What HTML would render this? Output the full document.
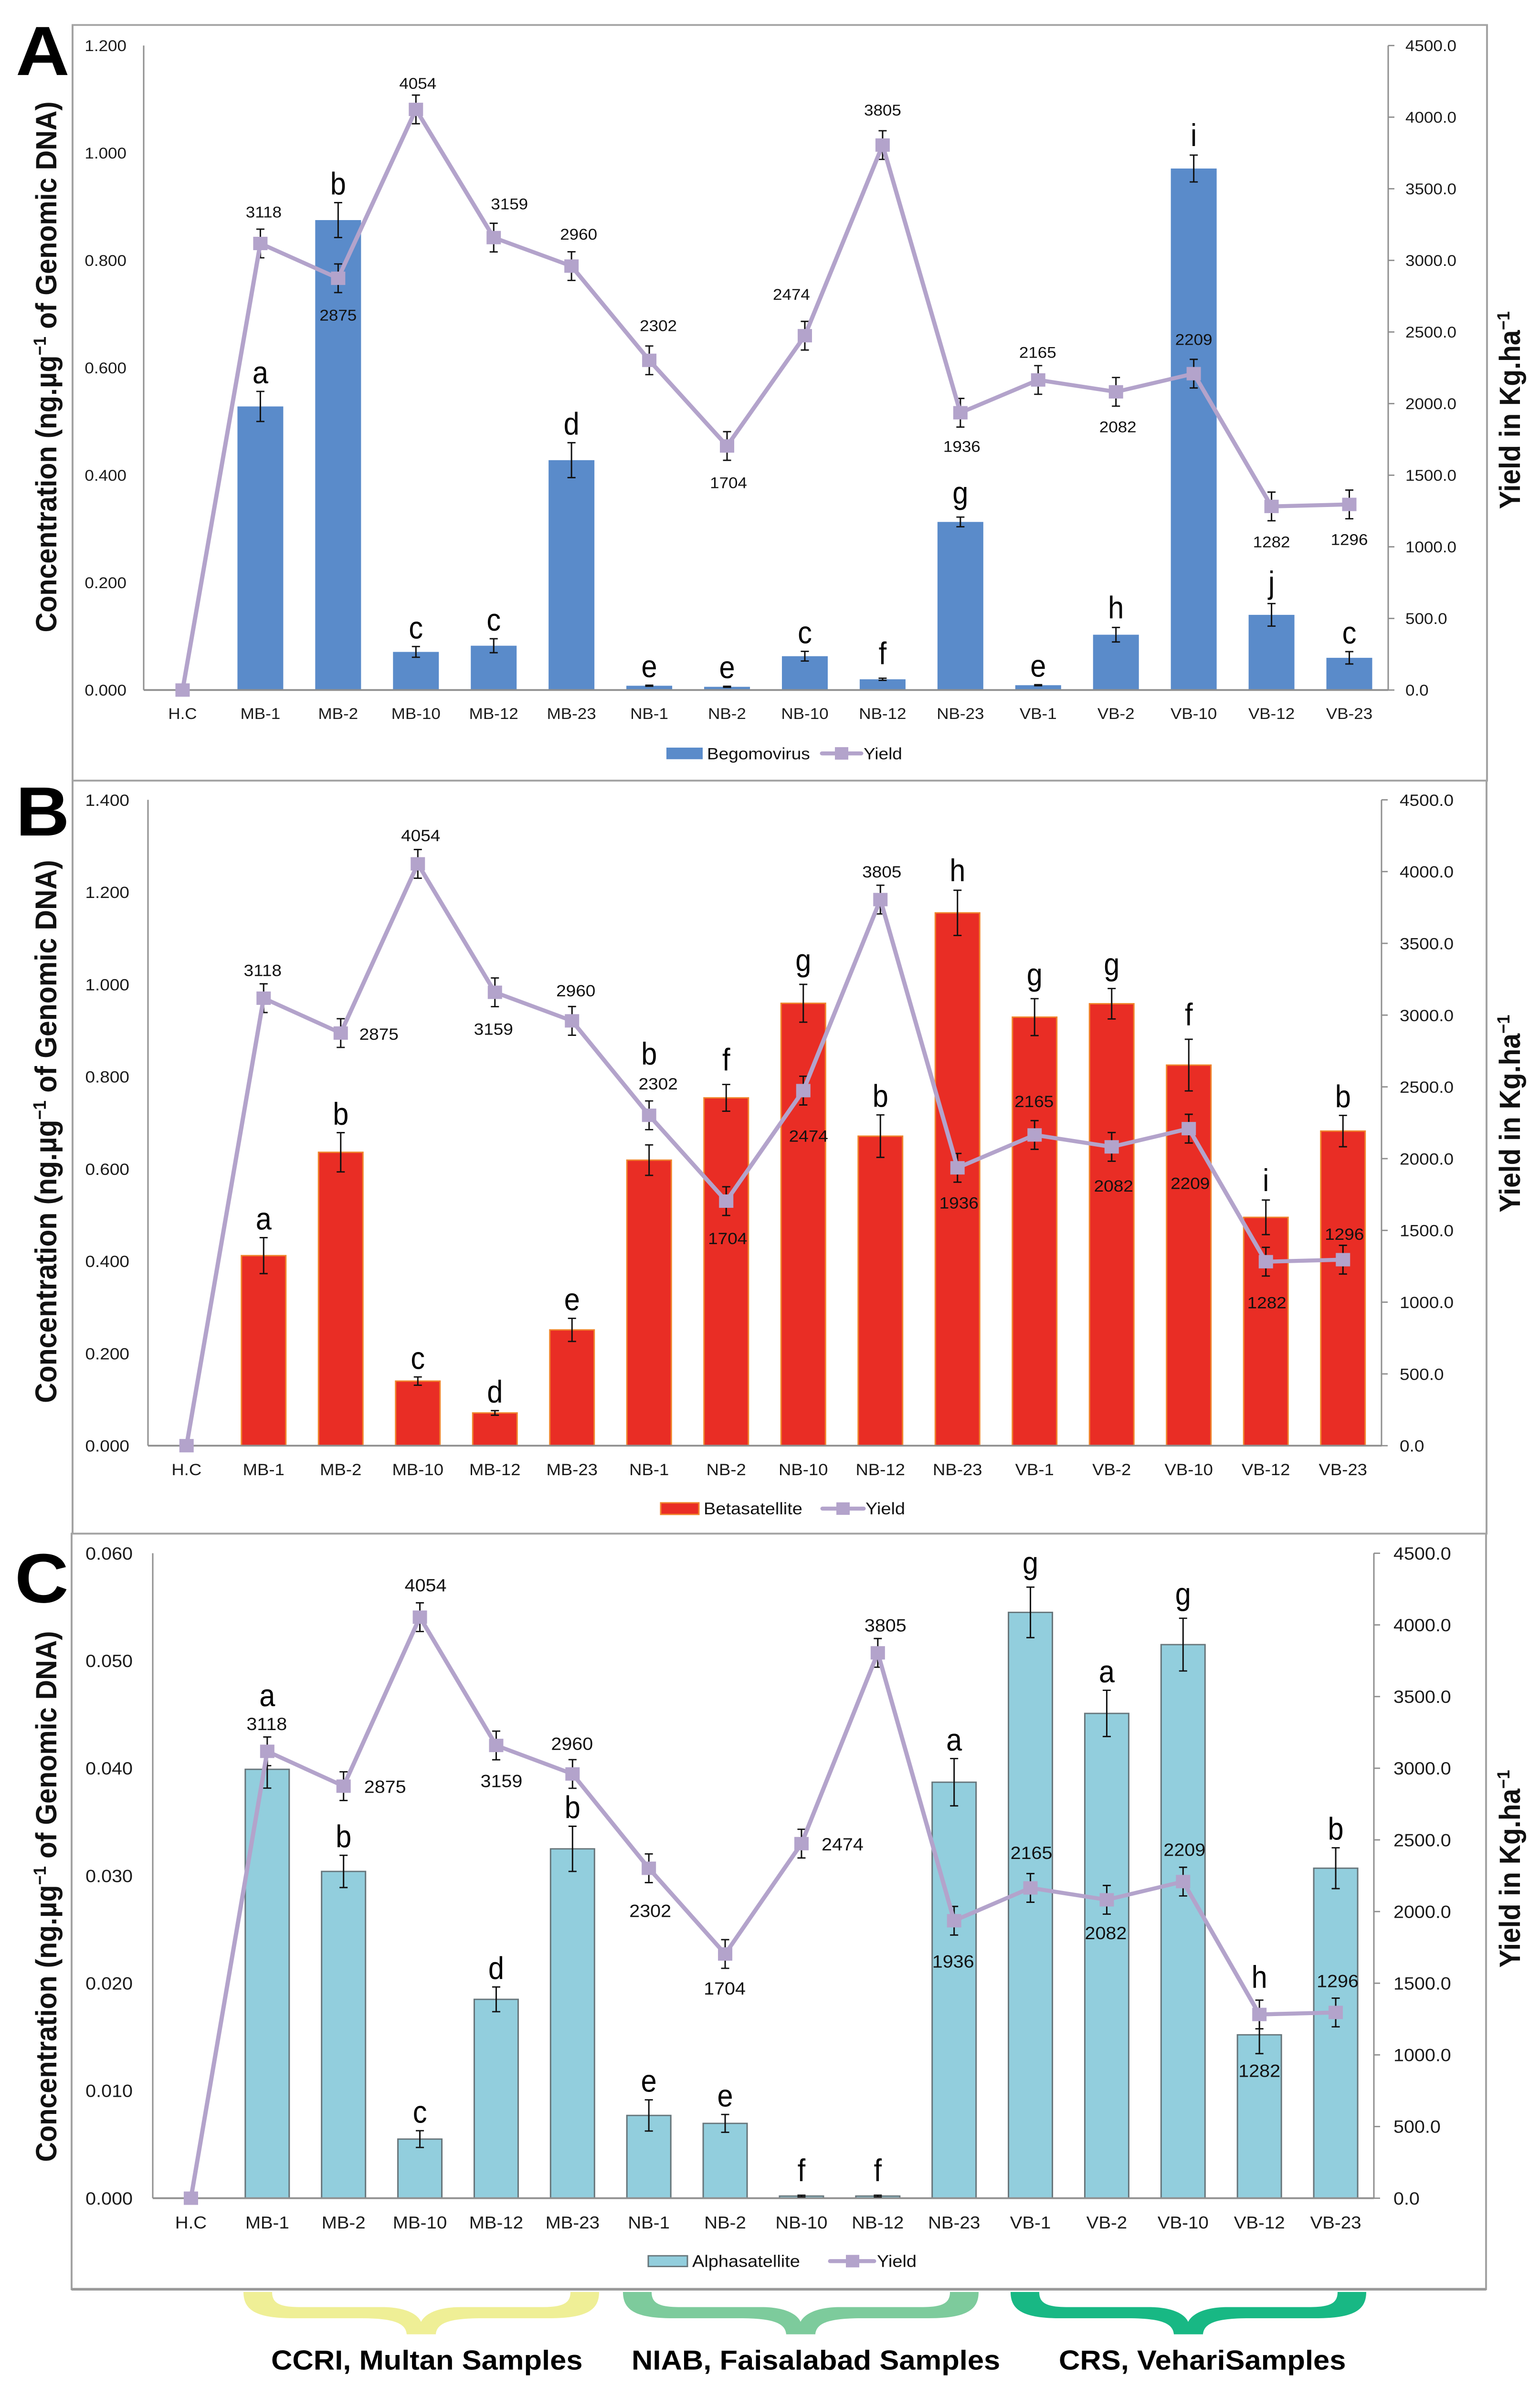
<!DOCTYPE html>
<html lang="en">
<head>
<meta charset="utf-8">
<title>Begomovirus, betasatellite and alphasatellite concentration versus yield</title>
<style>
  html, body { margin: 0; padding: 0; background: #fff; width: 100%; height: 100%; }
  svg { position: absolute; left: 0; top: 0; display: block; width: 100vw; height: 100vh; font-family: "Liberation Sans", Arial, sans-serif; }
</style>
</head>
<body>
<svg id="figure" xmlns="http://www.w3.org/2000/svg" viewBox="0 0 3226 5348" preserveAspectRatio="none">
  <rect x="0" y="0" width="3226" height="5348" fill="#ffffff"/>

  <g fill="none" stroke="#a3a3a3" stroke-width="4">
    <rect x="152" y="56" width="2963" height="1693"/>
    <rect x="152" y="1749" width="2962" height="1687"/>
    <rect x="150" y="3436" width="2963" height="1693"/>
    <line x1="150" y1="5129" x2="3113" y2="5129" stroke="#999999" stroke-width="6"/>
  </g>

  <g font-weight="bold" font-size="156" fill="#000">
    <text x="33" y="168">A</text>
    <text x="33" y="1872">B</text>
    <text x="31" y="3590">C</text>
  </g>

  <g font-weight="bold" fill="#111" text-anchor="middle">
    <text font-size="61.6" transform="translate(118,822) rotate(-90)">Concentration (ng.µg<tspan dy="-22" font-size="37">−1</tspan><tspan dy="22"> of Genomic DNA)</tspan></text>
    <text font-size="63" transform="translate(118,2535) rotate(-90)">Concentration (ng.µg<tspan dy="-22" font-size="38">−1</tspan><tspan dy="22"> of Genomic DNA)</tspan></text>
    <text font-size="61.6" transform="translate(118,4249) rotate(-90)">Concentration (ng.µg<tspan dy="-22" font-size="37">−1</tspan><tspan dy="22"> of Genomic DNA)</tspan></text>
    <text font-size="61" transform="translate(3184,919) rotate(-90)">Yield in Kg.ha<tspan dy="-22" font-size="37">−1</tspan></text>
    <text font-size="61" transform="translate(3184,2495) rotate(-90)">Yield in Kg.ha<tspan dy="-22" font-size="37">−1</tspan></text>
    <text font-size="61" transform="translate(3184,4187) rotate(-90)">Yield in Kg.ha<tspan dy="-22" font-size="37">−1</tspan></text>
  </g>

  <g id="panels"></g>

  <g>
    <path fill="#efef96" transform="translate(510,5135)" d="M0,0 L60,0 C60,25 75,34 120,34 L290,34 C340,34 365,50 372,67 C380,50 405,34 455,34 L625,34 C670,34 685,25 685,0 L745,0 C745,40 720,59 640,59 L500,59 C430,59 405,70 403,95 L342,95 C340,70 315,59 245,59 L105,59 C25,59 0,40 0,0 Z"/>
    <path fill="#7dcb9c" transform="translate(1305,5135)" d="M0,0 L60,0 C60,25 75,34 120,34 L290,34 C340,34 365,50 372,67 C380,50 405,34 455,34 L625,34 C670,34 685,25 685,0 L745,0 C745,40 720,59 640,59 L500,59 C430,59 405,70 403,95 L342,95 C340,70 315,59 245,59 L105,59 C25,59 0,40 0,0 Z"/>
    <path fill="#18b884" transform="translate(2117,5135)" d="M0,0 L60,0 C60,25 75,34 120,34 L290,34 C340,34 365,50 372,67 C380,50 405,34 455,34 L625,34 C670,34 685,25 685,0 L745,0 C745,40 720,59 640,59 L500,59 C430,59 405,70 403,95 L342,95 C340,70 315,59 245,59 L105,59 C25,59 0,40 0,0 Z"/>
  </g>
  <g font-weight="bold" font-size="61.5" fill="#000">
    <text x="568" y="5309">CCRI, Multan Samples</text>
    <text x="1323" y="5309">NIAB, Faisalabad Samples</text>
    <text x="2218" y="5309">CRS, VehariSamples</text>
  </g>
</svg>

<script>
// ---------- data ----------
const categories = ["H.C","MB-1","MB-2","MB-10","MB-12","MB-23","NB-1","NB-2","NB-10","NB-12","NB-23","VB-1","VB-2","VB-10","VB-12","VB-23"];
const yieldValues = [0,3118,2875,4054,3159,2960,2302,1704,2474,3805,1936,2165,2082,2209,1282,1296];
const yieldErrors = [0,100,100,100,100,100,100,100,100,100,100,100,100,100,100,100];
const rightTickValues = [0,500,1000,1500,2000,2500,3000,3500,4000,4500];

const begomovirusValues = [0,0.528,0.875,0.071,0.0825,0.428,0.008,0.006,0.063,0.020,0.313,0.009,0.103,0.971,0.140,0.060];
const begomovirusErrors = [0,0.028,0.0325,0.010,0.013,0.0325,0.001,0.001,0.009,0.002,0.009,0.001,0.0135,0.025,0.021,0.0115];
const begomovirusLetters = ["","a","b","c","c","d","e","e","c","f","g","e","h","i","j","c"];
const begomovirusTicks = [0,0.2,0.4,0.6,0.8,1.0,1.2];

const betasatelliteValues = [0,0.412,0.636,0.140,0.071,0.251,0.619,0.754,0.959,0.671,1.155,0.929,0.958,0.825,0.495,0.682];
const betasatelliteErrors = [0,0.039,0.0425,0.009,0.005,0.025,0.033,0.029,0.041,0.046,0.049,0.040,0.033,0.056,0.0375,0.034];
const betasatelliteLetters = ["","a","b","c","d","e","b","f","g","b","h","g","g","f","i","b"];
const betasatelliteTicks = [0,0.2,0.4,0.6,0.8,1.0,1.2,1.4];

const alphasatelliteValues = [0,0.0399,0.0304,0.0055,0.0185,0.0325,0.0077,0.00696,0.0002,0.0002,0.0387,0.0545,0.0451,0.0515,0.0152,0.0307];
const alphasatelliteErrors = [0,0.00175,0.0015,0.00078,0.00115,0.0021,0.00145,0.00083,0.00008,0.00008,0.0022,0.00235,0.00215,0.00245,0.00175,0.0019];
const alphasatelliteLetters = ["","a","b","c","d","b","e","e","f","f","a","g","a","g","h","b"];
const alphasatelliteTicks = [0,0.01,0.02,0.03,0.04,0.05,0.06];

// ---------- layout ----------
const NS = "http://www.w3.org/2000/svg";
const letterLift = { g: 30, f: 31, j: 23, h: 20, i: 20 };

const panels = [
  { id: "a", series: "Begomovirus", values: begomovirusValues, errors: begomovirusErrors, letters: begomovirusLetters,
    ticks: begomovirusTicks, leftMax: 1.2, left: 301, right: 2908, top: 102, base: 1546,
    font: 35, catFont: 35, catY: 1611, leftLabelX: 265, rightLabelX: 2944, barW: 96,
    fill: "#5a8bca", stroke: "none", strokeW: 0,
    nudges: [null,[7,-71],[0,82],[4,-59],[33,-76],[15,-72],[19,-78],[3,82],[-28,-93],[0,-79],[3,75],[-1,-62],[4,78],[0,-77],[0,79],[0,78]],
    letterExtra: {},
    legend: { y: 1688, swatch: [1396, 76, 26], textX: 1481, textFont: 37, line: [1722, 1804], sq: 1763, yieldX: 1809 } },
  { id: "b", series: "Betasatellite", values: betasatelliteValues, errors: betasatelliteErrors, letters: betasatelliteLetters,
    ticks: betasatelliteTicks, leftMax: 1.4, left: 310, right: 2894, top: 1792, base: 3239,
    font: 37, catFont: 36.5, catY: 3305, leftLabelX: 271, rightLabelX: 2932, barW: 93,
    fill: "#e92d25", stroke: "#f0842c", strokeW: 3,
    nudges: [null,[-2,-63],[80,2],[6,-64],[-3,82],[8,-68],[19,-71],[3,83],[11,101],[3,-63],[3,78],[-1,-76],[4,87],[3,122],[2,91],[3,-58]],
    letterExtra: { 6: 162 },
    legend: { y: 3380, swatch: [1384, 80, 26], textX: 1474, textFont: 38, line: [1723, 1809], sq: 1766, yieldX: 1813 } },
  { id: "c", series: "Alphasatellite", values: alphasatelliteValues, errors: alphasatelliteErrors, letters: alphasatelliteLetters,
    ticks: alphasatelliteTicks, leftMax: 0.06, left: 320, right: 2878, top: 3480, base: 4925,
    font: 39.5, catFont: 38.5, catY: 4993, leftLabelX: 278, rightLabelX: 2919, barW: 92,
    fill: "#92cedd", stroke: "#67757a", strokeW: 3,
    nudges: [null,[-1,-62],[87,1],[12,-72],[11,79],[-1,-68],[3,95],[-1,77],[86,1],[16,-62],[-2,91],[2,-79],[-2,74],[3,-72],[0,126],[4,-71]],
    letterExtra: { 1: 81, 14: 43 },
    legend: { y: 5066, swatch: [1358, 82, 24], textX: 1450, textFont: 38, line: [1739, 1831], sq: 1786, yieldX: 1837 } }
];

function mk(tag, attrs, parent, text) {
  const el = document.createElementNS(NS, tag);
  for (const k in attrs) el.setAttribute(k, attrs[k]);
  if (text !== undefined) el.textContent = text;
  parent.appendChild(el);
  return el;
}
function slug(s) { return s.toLowerCase().replace(/[^a-z0-9]+/g, '-'); }

function drawPanel(p) {
  const root = document.getElementById('panels');
  const g = mk('g', {}, root);
  
  

  const step = (p.right - p.left) / categories.length;
  const x = i => p.left + (i + 0.5) * step;
  const yL = v => p.base - (v / p.leftMax) * (p.base - p.top);
  const yR = v => p.base - (v / 4500) * (p.base - p.top);
  const series = slug(p.series);

  // bars
  p.values.forEach((v, i) => {
    if (v <= 0) return;
    const bar = mk('rect', { x: x(i) - p.barW / 2, y: yL(v), width: p.barW, height: p.base - yL(v), fill: p.fill, stroke: p.stroke, 'stroke-width': p.strokeW }, g);
    
    
  });

  // axes
  const leftAxis = mk('line', { x1: p.left, y1: p.top, x2: p.left, y2: p.base, stroke: '#8f8f8f', 'stroke-width': 3 }, g);
  
  
  const rightAxis = mk('line', { x1: p.right, y1: p.top, x2: p.right, y2: p.base, stroke: '#8f8f8f', 'stroke-width': 3 }, g);
  
  
  const baseAxis = mk('line', { x1: p.left, y1: p.base, x2: p.right, y2: p.base, stroke: '#8f8f8f', 'stroke-width': 4 }, g);
  
  

  // tick labels
  p.ticks.forEach(t => {
    const label = mk('text', { x: p.leftLabelX, y: yL(t) + p.font * 0.36, 'text-anchor': 'end', 'font-size': p.font, fill: '#1a1a1a' }, g, t.toFixed(3));
    
    
  });
  rightTickValues.forEach(t => {
    const tick = mk('line', { x1: p.right, y1: yR(t), x2: p.right + 13, y2: yR(t), stroke: '#8f8f8f', 'stroke-width': 3 }, g);
    
    
    const label = mk('text', { x: p.rightLabelX, y: yR(t) + p.font * 0.36, 'font-size': p.font, fill: '#1a1a1a' }, g, t.toFixed(1));
    
    
  });
  categories.forEach((c, i) => {
    const label = mk('text', { x: x(i), y: p.catY, 'text-anchor': 'middle', 'font-size': p.catFont, fill: '#1a1a1a' }, g, c);
    
    
  });

  // bar error bars
  const drawError = (cx, hi, lo, name) => {
    const e = mk('path', { d: `M${cx - 8.5},${hi} H${cx + 8.5} M${cx},${hi} V${lo} M${cx - 8.5},${lo} H${cx + 8.5}`, fill: 'none', stroke: '#111', 'stroke-width': 3 }, g);
    
    
  };
  p.values.forEach((v, i) => {
    if (v <= 0) return;
    drawError(x(i), yL(v + p.errors[i]), yL(v - p.errors[i]), series + '-error-bar');
  });

  // significance letters
  p.values.forEach((v, i) => {
    if (v <= 0) return;
    const ch = p.letters[i];
    const lift = (letterLift[ch] || 18) + (p.letterExtra[i] || 0);
    const letter = mk('text', { transform: `translate(${x(i)},${yL(v + p.errors[i]) - lift}) scale(0.85,1)`, 'text-anchor': 'middle', 'font-size': 70, fill: '#000' }, g, ch);
    
    
  });

  // yield error bars, line and markers
  yieldValues.forEach((v, i) => {
    if (yieldErrors[i] <= 0) return;
    drawError(x(i), yR(v + yieldErrors[i]), yR(v - yieldErrors[i]), 'yield-error-bar');
  });
  const pts = yieldValues.map((v, i) => x(i) + ',' + yR(v)).join(' ');
  const line = mk('polyline', { points: pts, fill: 'none', stroke: '#b3a3cb', 'stroke-width': 9, 'stroke-linejoin': 'round' }, g);
  
  
  yieldValues.forEach((v, i) => {
    const m = mk('rect', { x: x(i) - 15, y: yR(v) - 15, width: 30, height: 30, fill: '#b3a3cb' }, g);
    
    
  });

  // yield value labels
  yieldValues.forEach((v, i) => {
    const n = p.nudges[i];
    if (!n) return;
    const label = mk('text', { x: x(i) + n[0], y: yR(v) + n[1] + p.font * 0.36, 'text-anchor': 'middle', 'font-size': p.font, fill: '#111' }, g, String(v));
    
    
  });

  // legend
  const lg = mk('g', {}, g);
  
  
  const L = p.legend;
  const sw = mk('rect', { x: L.swatch[0], y: L.y - L.swatch[2] / 2, width: L.swatch[1], height: L.swatch[2], fill: p.fill, stroke: p.stroke, 'stroke-width': p.strokeW }, lg);
  
  
  const t1 = mk('text', { x: L.textX, y: L.y + 13, 'font-size': L.textFont, fill: '#111' }, lg, p.series);
  
  
  const ll = mk('line', { x1: L.line[0], y1: L.y, x2: L.line[1], y2: L.y, stroke: '#b3a3cb', 'stroke-width': 9, 'stroke-linecap': 'round' }, lg);
  
  
  const ls = mk('rect', { x: L.sq - 14, y: L.y - 14, width: 28, height: 28, fill: '#b3a3cb' }, lg);
  
  
  const t2 = mk('text', { x: L.yieldX, y: L.y + 13, 'font-size': L.textFont, fill: '#111' }, lg, 'Yield');
  
  
}

panels.forEach(drawPanel);
</script>
</body>
</html>
